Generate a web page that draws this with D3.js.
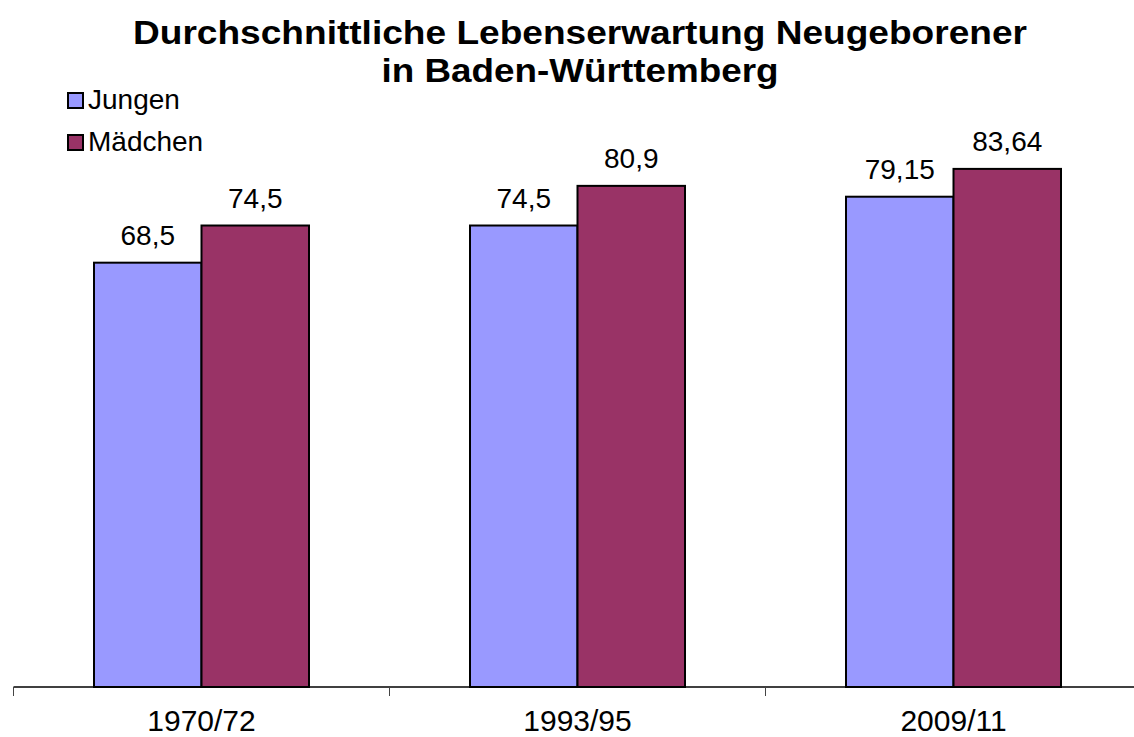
<!DOCTYPE html>
<html><head><meta charset="utf-8">
<script src="https://cdn.jsdelivr.net/npm/d3@7"></script>
<style>body{margin:0;background:#fff}svg{display:block}</style>
</head><body>
<script>
const categories = ["1970/72", "1993/95", "2009/11"];
const seriesNames = ["Jungen", "Mädchen"];
const jungen = [68.5, 74.5, 79.15];
const maedchen = [74.5, 80.9, 83.64];
const valueLabels = [["68,5", "74,5", "79,15"], ["74,5", "80,9", "83,64"]];
const colors = ["#9999FF", "#993366"];
const titleLines = ["Durchschnittliche Lebenserwartung Neugeborener", "in Baden-Württemberg"];

const W = 1134, H = 737;
const svg = d3.select("body").append("svg").attr("width", W).attr("height", H);
const font = "Liberation Sans, Arial, sans-serif";

const x = d3.scaleBand().domain(categories).range([13.5, 1141.5]).paddingInner(0).paddingOuter(0);
const y = d3.scaleLinear().domain([0, 90]).range([687, 129.5]);
const barW = 107.5;
const series = [jungen, maedchen];

series.forEach((vals, si) => {
  svg.append("g").selectAll("rect").data(vals).join("rect")
    .attr("x", (d, i) => x(categories[i]) + x.bandwidth() / 2 - barW + si * barW)
    .attr("y", d => y(d))
    .attr("width", barW)
    .attr("height", d => y(0) - y(d))
    .attr("fill", colors[si])
    .attr("stroke", "#000").attr("stroke-width", 2);
  svg.append("g").selectAll("text").data(vals).join("text")
    .attr("x", (d, i) => x(categories[i]) + x.bandwidth() / 2 - barW / 2 + si * barW)
    .attr("y", d => y(d) - 18)
    .attr("text-anchor", "middle")
    .attr("font-family", font).attr("font-size", 28)
    .text((d, i) => valueLabels[si][i]);
});

// x axis
const gx = svg.append("g").attr("transform", "translate(0,687)");
gx.append("line").attr("x1", 13.5).attr("x2", W).attr("y1", 0).attr("y2", 0).attr("stroke", "#000").attr("stroke-width", 1.5);
const bounds = categories.map(c => x(c)).concat([x(categories[categories.length - 1]) + x.bandwidth()]);
gx.selectAll("line.tick").data(bounds).join("line").attr("class", "tick")
  .attr("x1", d => d).attr("x2", d => d).attr("y1", 0).attr("y2", 9)
  .attr("stroke", "#444").attr("stroke-width", 1);
gx.selectAll("text").data(categories).join("text")
  .attr("x", d => x(d) + x.bandwidth() / 2)
  .attr("y", 44)
  .attr("text-anchor", "middle")
  .attr("font-family", font).attr("font-size", 30)
  .text(d => d);

// title
svg.append("text").attr("x", 580).attr("y", 44).attr("text-anchor", "middle")
  .attr("font-family", font).attr("font-weight", "bold").attr("font-size", 34)
  .attr("textLength", 894).attr("lengthAdjust", "spacingAndGlyphs")
  .text(titleLines[0]);
svg.append("text").attr("x", 580).attr("y", 82).attr("text-anchor", "middle")
  .attr("font-family", font).attr("font-weight", "bold").attr("font-size", 34)
  .attr("textLength", 397).attr("lengthAdjust", "spacingAndGlyphs")
  .text(titleLines[1]);

// legend
const lg = svg.append("g");
seriesNames.forEach((n, i) => {
  lg.append("rect").attr("x", 68).attr("y", 93 + i * 42).attr("width", 15).attr("height", 15)
    .attr("fill", colors[i]).attr("stroke", "#000").attr("stroke-width", 2);
  lg.append("text").attr("x", 88).attr("y", 109 + i * 42)
    .attr("font-family", font).attr("font-size", 28).text(n);
});
</script>
</body></html>
